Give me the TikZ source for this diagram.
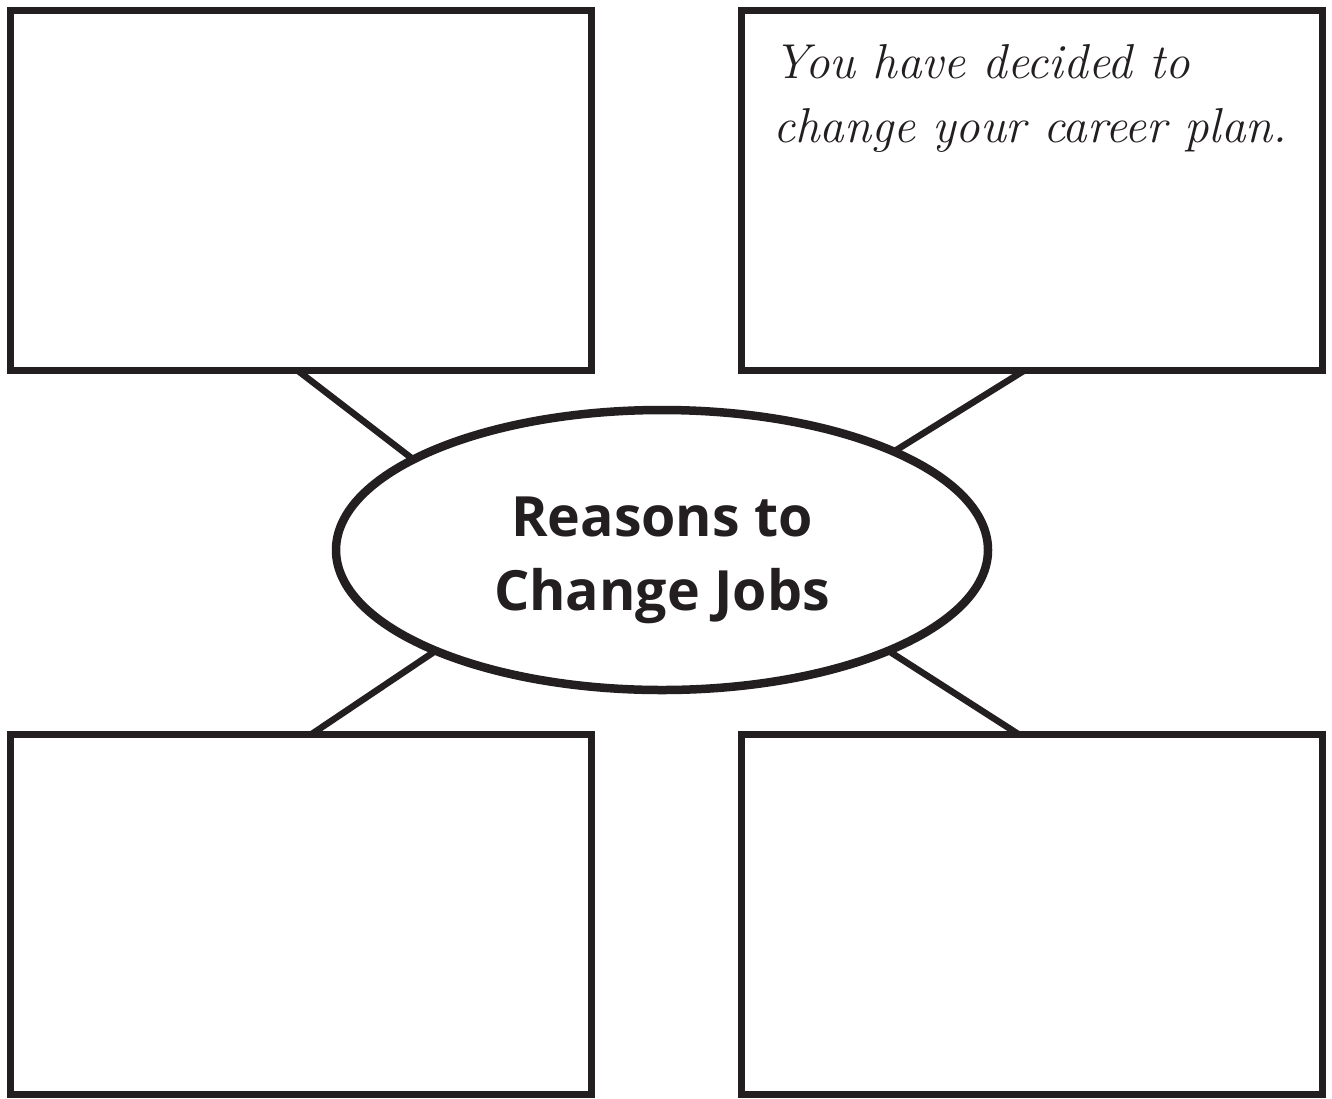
\documentclass[tikz,border=0pt]{standalone}
\usepackage{fontspec}
\usetikzlibrary{shapes.geometric,calc}
\newfontfamily\titlefont{Open Sans}
\definecolor{ink}{HTML}{231F20}
\begin{document}
\begin{tikzpicture}[x=1pt,y=-1pt,
  box/.style={draw=ink,line width=7pt,rectangle,outer sep=0pt,inner sep=0pt,
              minimum width=581pt},
  link/.style={draw=ink,line width=6.5pt}]
\useasboundingbox (0,0) rectangle (1332,1098);
\fill[white] (0,0) rectangle (1332,1098);
% boxes
\node[box,minimum height=359.5pt] (tlb) at (300.75,190.25) {};
\node[box,minimum height=359.5pt] (trb) at (1031.5,190.25) {};
\node[box,minimum height=360.5pt] (blb) at (300.75,914.25) {};
\node[box,minimum height=360.5pt] (brb) at (1031.5,914.25) {};
% ellipse
\node[draw=ink,line width=8.5pt,ellipse,minimum width=652pt,minimum height=280pt,
      inner sep=0pt,outer sep=0pt] (c) at (662,550) {};
% connectors
\draw[link] ($(tlb.south west)!0.4935!(tlb.south east)$) -- (c.160);
\draw[link] ($(trb.south west)!0.489!(trb.south east)$) -- (c.23);
\draw[link] ($(blb.north west)!0.519!(blb.north east)$) -- (c.204);
\draw[link] ($(brb.north west)!0.477!(brb.north east)$) -- (c.336);
% texts
\node[text=ink,font=\titlefont\bfseries\fontsize{55.5}{74}\selectfont,align=center,inner sep=0pt] (t) at (662,560) {Reasons to\\Change Jobs};
\node[text=ink,anchor=north west,font=\itshape\fontsize{49}{64.5}\selectfont,align=left,inner sep=0pt] (note) at (773,44) {You have decided to\\change your career plan.};
\end{tikzpicture}
\end{document}
